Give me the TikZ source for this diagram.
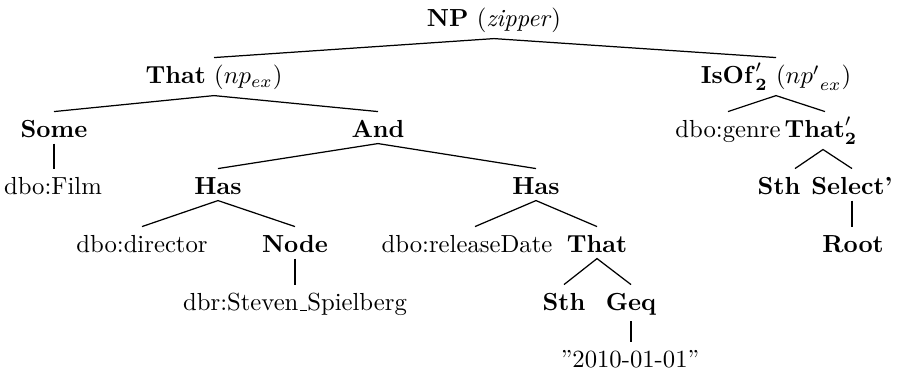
\documentclass[tikz,border=0pt]{standalone}
\usetikzlibrary{calc}
% short baseline underscore, as in the old text encoding
\newcommand{\lowbar}{\leavevmode\kern.06em\vbox{\hrule width .3em}}
\begin{document}
\begin{tikzpicture}[x=0.405pt,y=-0.405pt,
  lbl/.style={anchor=base,inner xsep=1pt,inner ysep=2pt,text height=8.5pt},
  br/.style={line width=0.5pt}]
\useasboundingbox (0,0) rectangle (899,374);
% level 0
\node[lbl] (np) at (494,27) {\textbf{NP} (\textit{zipper})};
% level 1
\node[lbl] (that1) at (214,84) {\textbf{That} ($np_{ex}$)};
\node[lbl] (isof) at (776,84) {$\mathbf{IsOf}'_{\mathbf 2}$ (${np'}_{ex}$)};
% level 2
\node[lbl] (some) at (54,138) {\textbf{Some}};
\node[lbl] (and) at (378,138) {\textbf{And}};
\node[lbl] (genre) at (728,138) {dbo:genre};
\node[lbl] (that2) at (821,138) {$\mathbf{That}'_{\mathbf 2}$};
% level 3
\node[lbl] (film) at (53,195) {dbo:Film};
\node[lbl] (has1) at (218,195) {\textbf{Has}};
\node[lbl] (has2) at (536,195) {\textbf{Has}};
\node[lbl] (sthB) at (779,195) {\textbf{Sth}};
\node[lbl] (select) at (852,195) {\textbf{Select'}};
% level 4
\node[lbl] (director) at (142,253) {dbo:director};
\node[lbl] (nodeN) at (295,253) {\textbf{Node}};
\node[lbl] (release) at (467,253) {dbo:releaseDate};
\node[lbl] (thatL) at (597,253) {\textbf{That}};
\node[lbl] (root) at (853,253) {\textbf{Root}};
% level 5
\node[lbl] (spielberg) at (295,311) {dbr:Steven\lowbar Spielberg};
\node[lbl] (sthA) at (564,311) {\textbf{Sth}};
\node[lbl] (geq) at (631,311) {\textbf{Geq}};
% level 6
\node[lbl] (date) at (630,368) {''2010-01-01''};

% branches
\draw[br] (that1.north) -- (np.south) -- (isof.north);
\draw[br] (some.north) -- (that1.south) -- (and.north);
\draw[br] (some.south) -- (some.south |- film.north);
\draw[br] (has1.north) -- (and.south) -- (has2.north);
\draw[br] (director.north) -- (has1.south) -- (nodeN.north);
\draw[br] (nodeN.south) -- (nodeN.south |- spielberg.north);
\draw[br] ($(release.north)+(8,0)$) -- (has2.south) -- (thatL.north);
\draw[br] (sthA.north) -- (thatL.south) -- (geq.north);
\draw[br] (geq.south) -- (geq.south |- date.north);
\draw[br] (genre.north) -- (isof.south) -- ($(that2.north)+(4,0)$);
\draw[br] ($(sthB.north)+(16,0)$) -- ($(that2.south)+(2,0)$) -- (select.north);
\draw[br] (select.south) -- (select.south |- root.north);
\end{tikzpicture}
\end{document}
